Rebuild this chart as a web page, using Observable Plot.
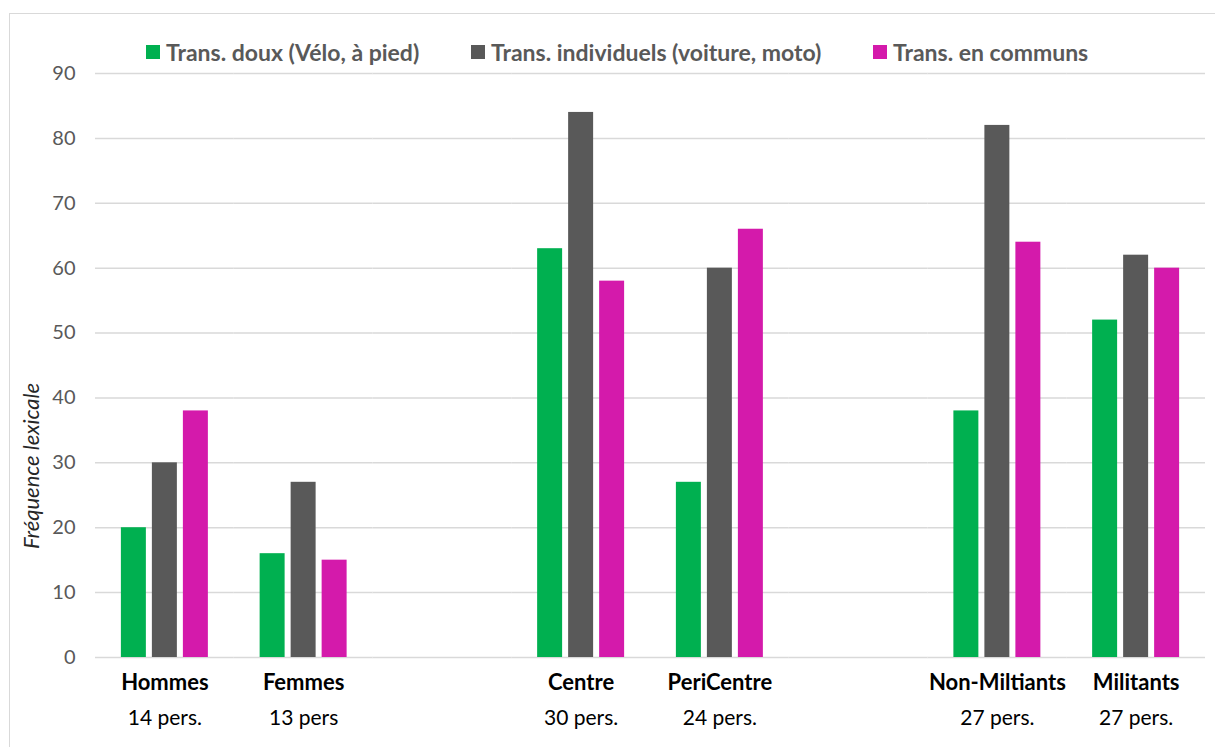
<!DOCTYPE html>
<html><head><meta charset="utf-8">
<script src="https://cdn.jsdelivr.net/npm/d3@7"></script>
<script src="https://cdn.jsdelivr.net/npm/@observablehq/plot@0.6"></script>
<style>
body{margin:0;background:#fff;font-family:Lato,"Open Sans",sans-serif;}
#wrap{position:relative;width:1215px;height:747px;overflow:hidden;}
#frame{position:absolute;left:9px;top:13px;width:1220px;height:760px;border:1.5px solid #d9d9d9;box-sizing:border-box;}
#chart{position:absolute;left:0;top:0;}
.leg{position:absolute;top:38px;font-weight:bold;font-size:23px;color:#595959;display:flex;align-items:center;white-space:nowrap;}
.leg i{display:inline-block;width:14px;height:14px;margin-right:6px;}
#ylab{position:absolute;left:30px;top:466px;transform:translate(-50%,-50%) rotate(-90deg);font-style:italic;font-size:22px;color:#262626;white-space:nowrap;}
</style></head>
<body>
<div id="wrap">
  <div id="frame"></div>
  <div id="chart"></div>
  <div id="legend"></div>
  <div id="ylab">Fréquence lexicale</div>
</div>
<script>
const groups = ["Hommes","Femmes","Centre","PeriCentre","Non-Miltiants","Militants"];
const counts = ["14 pers.","13 pers","30 pers.","24 pers.","27 pers.","27 pers."];
const slots = ["Hommes","Femmes","gap1","Centre","PeriCentre","gap2","Non-Miltiants","Militants"];
const series = ["Trans. doux (Vélo, à pied)","Trans. individuels (voiture, moto)","Trans. en communs"];
const colors = ["#00B050","#595959","#D41AAB"];
const doux = [20,16,63,27,38,52];
const indiv = [30,27,84,60,82,62];
const communs = [38,15,58,66,64,60];
const yTicks = [0,10,20,30,40,50,60,70,80,90];

const values = [doux, indiv, communs];
const rows = [];
groups.forEach((g,i)=>series.forEach((s,j)=>rows.push({group:g, series:s, value:values[j][i]})));
const labels = groups.map((g,i)=>({group:g, count:counts[i]}));
const grid = slots.flatMap(s=>yTicks.map(t=>({slot:s, t})));

const legendLeft = [146, 471, 873];
const legend = document.getElementById("legend");
series.forEach((s,j)=>{
  const d = document.createElement("div");
  d.className = "leg";
  d.style.left = legendLeft[j] + "px";
  d.innerHTML = `<i style="background:${colors[j]}"></i>${s}`;
  legend.appendChild(d);
});

const plot = Plot.plot({
  width: 1215,
  height: 747,
  marginTop: 73,
  marginBottom: 90,
  marginLeft: 95,
  marginRight: 10,
  style: {fontFamily: "Lato, 'Open Sans', sans-serif", fontSize: "20px", color: "#595959", background: "transparent", overflow: "visible"},
  fx: {domain: slots, padding: 0, round: false, axis: null},
  x: {domain: series, paddingInner: 0.194, paddingOuter: 0.835, round: false, axis: null},
  y: {domain: [0, 90], axis: null},
  color: {domain: series, range: colors},
  marks: [
    Plot.ruleY(grid, {fx: "slot", y: "t", stroke: "#d9d9d9", strokeWidth: 1.5}),
    Plot.axisY(yTicks, {tickSize: 0, tickPadding: 20, label: null, fill: "#595959"}),
    Plot.barY(rows, {fx: "group", x: "series", y: "value", fill: "series"}),
    Plot.text(labels, {fx: "group", text: "group", frameAnchor: "bottom", dy: 32, fontWeight: "bold", fontSize: 22, fill: "#000"}),
    Plot.text(labels, {fx: "group", text: "count", frameAnchor: "bottom", dy: 67, fontSize: 21, fill: "#000"})
  ]
});
document.getElementById("chart").appendChild(plot);
</script>
</body></html>
